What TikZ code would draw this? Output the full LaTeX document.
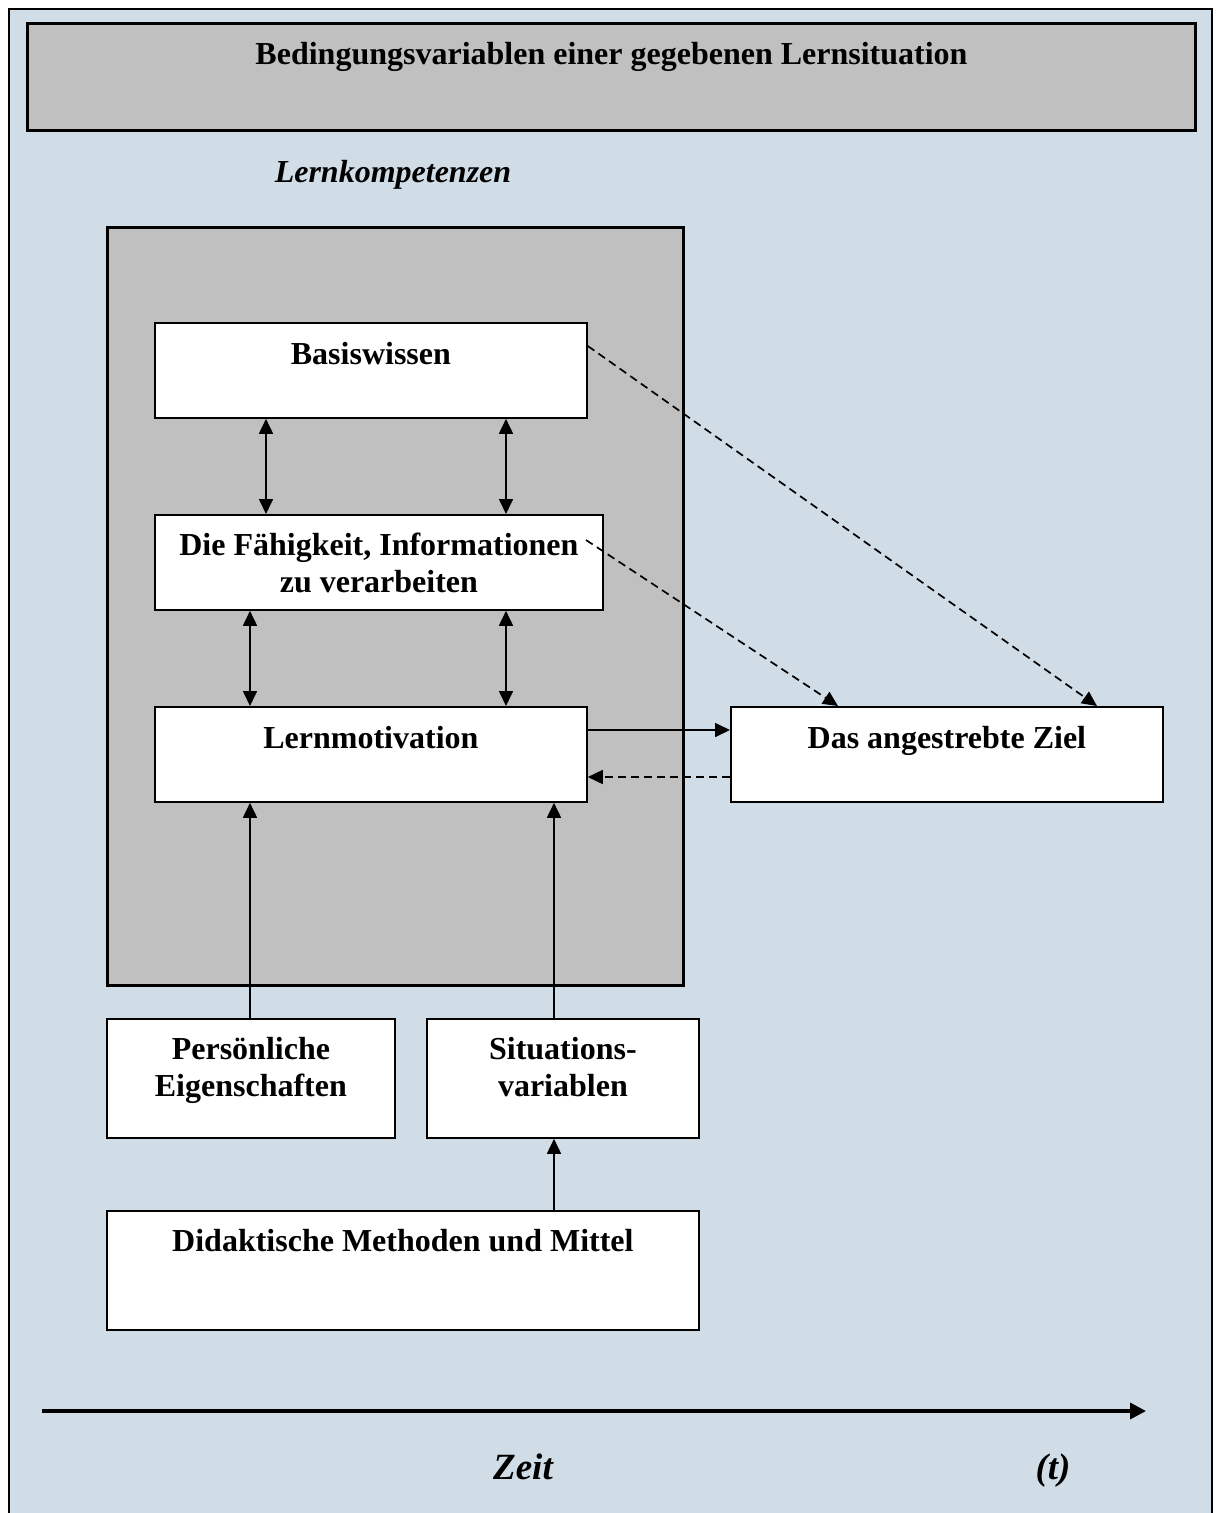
\documentclass[tikz,border=0pt]{standalone}
\usepackage{fontspec}
\setmainfont{Liberation Serif}
\usetikzlibrary{arrows.meta,positioning}
\definecolor{bgblue}{RGB}{208,220,230}
\definecolor{boxgray}{RGB}{192,192,192}
\tikzset{
  box/.style={draw, fill=white, line width=1.8pt, inner sep=0pt, anchor=north west},
  lbl/.style={font=\fontsize{32}{36.5}\selectfont\bfseries, align=center, inner sep=0pt, anchor=north},
  tip/.style={-{Triangle[length=15pt,width=14pt]}},
  link/.style={line width=1.7pt, tip},
  dlink/.style={line width=1.7pt, {Triangle[length=15pt,width=14pt]}-{Triangle[length=15pt,width=14pt]}},
  dashlink/.style={link, dash pattern=on 8pt off 5pt},
}
\begin{document}
\begin{tikzpicture}[x=1pt,y=-1pt]
\useasboundingbox (0,0) rectangle (1219,1513);
\draw[line width=2.5pt, fill=bgblue] (9,9) rectangle (1212,1540);

% Titel
\node[box, fill=boxgray, line width=3pt, minimum width=1168, minimum height=107] (title) at (26,22) {};
\node[lbl] at ([yshift=-17]title.north) {\strut Bedingungsvariablen einer gegebenen Lernsituation};

\node[font=\fontsize{32}{36.5}\selectfont\bfseries\itshape, anchor=base, inner sep=0pt] (komp) at (393,182) {Lernkompetenzen};
\node[box, fill=boxgray, line width=3pt, minimum width=576, minimum height=758] (kompbox) at (106,226) {};

% Kompetenzen
\node[box, minimum width=432, minimum height=95] (basis) at (154,322) {};
\node[lbl] at ([yshift=-17]basis.north) {\strut Basiswissen};
\node[box, minimum width=448, minimum height=95] (faehig) at (154,514) {};
\node[lbl] at ([yshift=-16]faehig.north) {\strut Die Fähigkeit, Informationen\\zu verarbeiten};
\node[box, minimum width=432, minimum height=95] (motiv) at (154,706) {};
\node[lbl] at ([yshift=-17]motiv.north) {\strut Lernmotivation};
\node[box, minimum width=432, minimum height=95] (ziel) at (730,706) {};
\node[lbl] at ([yshift=-17]ziel.north) {\strut Das angestrebte Ziel};

% Einflussgroessen
\node[box, minimum width=288, minimum height=119] (pers) at (106,1018) {};
\node[lbl] at ([yshift=-16]pers.north) {\strut Persönliche\\Eigenschaften};
\node[box, minimum width=272, minimum height=119] (situ) at (426,1018) {};
\node[lbl] at ([yshift=-16]situ.north) {\strut Situations-\\variablen};
\node[box, minimum width=592, minimum height=119] (didak) at (106,1210) {};
\node[lbl] at ([yshift=-16]didak.north) {\strut Didaktische Methoden und Mittel};

% Pfeile
\draw[dlink] (basis.south -| 266,0) -- (faehig.north -| 266,0);
\draw[dlink] (basis.south -| 506,0) -- (faehig.north -| 506,0);
\draw[dlink] (faehig.south -| 250,0) -- (motiv.north -| 250,0);
\draw[dlink] (faehig.south -| 506,0) -- (motiv.north -| 506,0);
\draw[link] (pers.north -| 250,0) -- (motiv.south -| 250,0);
\draw[link] (situ.north -| 554,0) -- (motiv.south -| 554,0);
\draw[link] (didak.north -| 554,0) -- (situ.south -| 554,0);
\draw[link] (motiv.east |- 0,730) -- (ziel.west |- 0,730);
\draw[dashlink] (ziel.west |- 0,777) -- (motiv.east |- 0,777);
\draw[dashlink] (basis.east |- 0,346) -- (ziel.north -| 1097,0);
\draw[dashlink] (586,540) -- (ziel.north -| 838,0);

% Zeitachse
\coordinate (t0) at (42,1411);
\coordinate (t1) at (1146,1411);
\draw[line width=3.5pt, -{Triangle[length=16pt,width=16pt]}] (t0) -- (t1);
\node[font=\fontsize{37}{40}\selectfont\bfseries\itshape, anchor=base, inner sep=0pt] (zeit) at (523,1479) {Zeit};
\node[font=\fontsize{37}{40}\selectfont\bfseries\itshape, anchor=base, inner sep=0pt] (tt) at (1053,1479) {(t)};
\end{tikzpicture}
\end{document}
